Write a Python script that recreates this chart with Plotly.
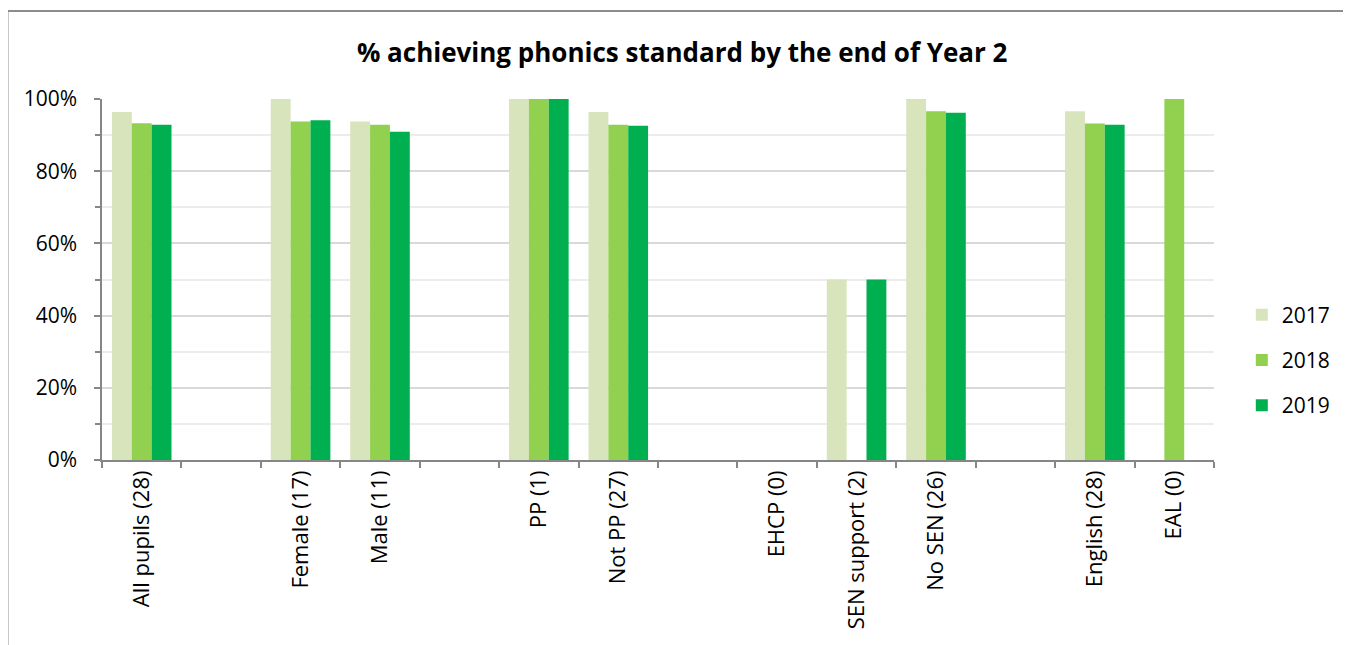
import plotly.graph_objects as go

categories = ["All pupils (28)", "", "Female (17)", "Male (11)", "", "PP (1)", "Not PP (27)", "",
              "EHCP (0)", "SEN support (2)", "No SEN (26)", "", "English (28)", "EAL (0)"]
years = ["2017", "2018", "2019"]
v2017 = [96.4, None, 100, 93.8, None, 100, 96.4, None, None, 50, 100, None, 96.6, None]
v2018 = [93.3, None, 93.8, 92.9, None, 100, 92.9, None, None, None, 96.6, None, 93.2, 100]
v2019 = [92.9, None, 94.1, 90.9, None, 100, 92.6, None, None, 50, 96.2, None, 92.9, None]
colors = ["#D8E4BC", "#92D050", "#00B050"]

# make blank category slots unique
cats = []
nb = 0
for c in categories:
    if c == "":
        nb += 1
        cats.append(" " * nb)
    else:
        cats.append(c)

fig = go.Figure()
for name, vals, col in zip(years, [v2017, v2018, v2019], colors):
    fig.add_trace(go.Bar(x=cats, y=vals, name=name, marker_color=col,
                         marker_line_width=0, legendgroup=name))

font_family = "Open Sans, Noto Sans, DejaVu Sans, sans-serif"
fig.update_layout(
    width=1343, height=637,
    margin=dict(l=94, r=137, t=91, b=185),
    paper_bgcolor="white", plot_bgcolor="white",
    barmode="group", bargap=0.25, bargroupgap=0,
    font=dict(family=font_family, color="#000000", size=20),
    title=dict(text="<b>% achieving phonics standard by the end of Year 2</b>",
               x=0.502, xanchor="center", y=0.93, yanchor="middle",
               font=dict(size=26, family=font_family, color="#000000")),
    legend=dict(x=1.025, xanchor="left", y=0.277, yanchor="middle",
                font=dict(size=21, family=font_family),
                traceorder="grouped", tracegroupgap=15,
                bgcolor="rgba(0,0,0,0)"),
    showlegend=True,
)
fig.update_xaxes(type="category", categoryorder="array", categoryarray=cats,
                 tickangle=-90, tickson="boundaries", ticks="outside", ticklen=6,
                 tickcolor="#868686", tickwidth=1.5,
                 showline=True, linecolor="#868686", linewidth=1.5,
                 showgrid=False, tickfont=dict(size=22), range=[-0.5, 13.5])
fig.update_yaxes(range=[0, 100], dtick=20, ticksuffix="%", ticks="outside", ticklen=6,
                 tickcolor="#868686", tickwidth=1.5,
                 showline=True, linecolor="#868686", linewidth=1.5,
                 showgrid=True, gridcolor="#d9d9d9", gridwidth=1.5,
                 zeroline=False, tickfont=dict(size=21), ticklabelstandoff=13,
                 minor=dict(dtick=10, showgrid=True, gridcolor="#ececec", gridwidth=1.5,
                            ticks="outside", ticklen=5, tickcolor="#868686", tickwidth=1.5))

# chart outer frame
fig.add_shape(type="rect", xref="paper", yref="paper",
              x0=-0.085, x1=1.1205, y0=-0.7, y1=1.2438,
              line=dict(color="#8c8c8c", width=2), fillcolor="rgba(0,0,0,0)", layer="below")

fig.write_html("out.html")
